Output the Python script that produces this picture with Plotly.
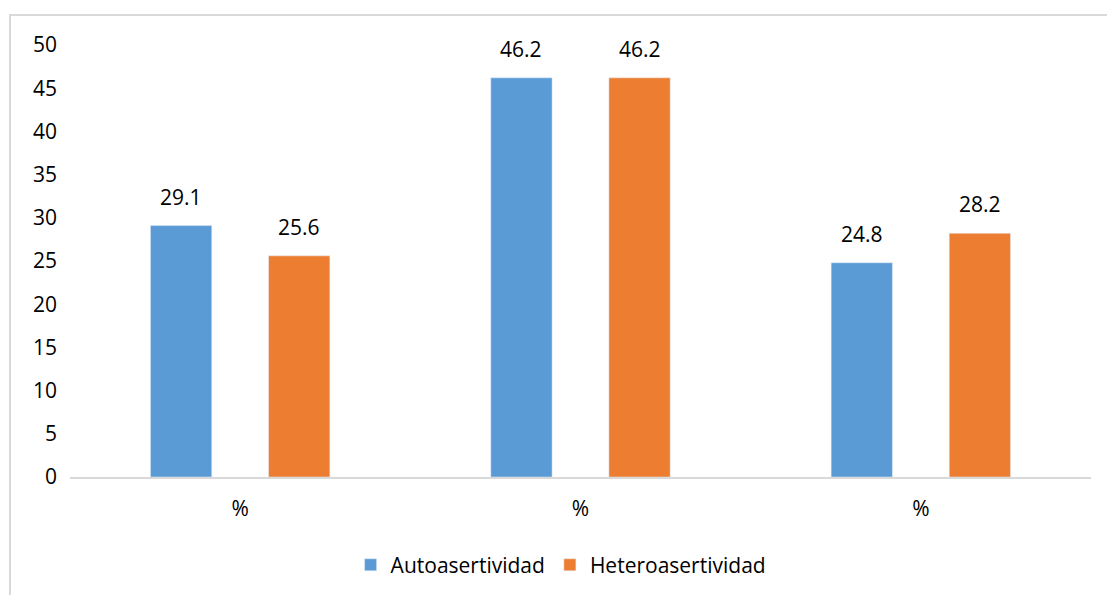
import plotly.graph_objects as go

categories = ["%", "%", "%"]
auto_vals = [29.1, 46.2, 24.8]
hetero_vals = [25.6, 46.2, 28.2]
series_names = ["Autoasertividad", "Heteroasertividad"]
y_ticks = [0, 5, 10, 15, 20, 25, 30, 35, 40, 45, 50]

BLUE = "#5B9BD5"
ORANGE = "#ED7D31"
FONT = "Open Sans"
FS = 21

xpos = list(range(len(categories)))

fig = go.Figure()
fig.add_trace(go.Bar(x=xpos, y=auto_vals, name=series_names[0], marker_color=BLUE))
fig.add_trace(go.Bar(x=xpos, y=hetero_vals, name=series_names[1], marker_color=ORANGE))

bargap = 0.306
groupgap = 0.481
slot = (1 - bargap) / 2
for vals, sign in [(auto_vals, -1), (hetero_vals, 1)]:
    for i, v in enumerate(vals):
        fig.add_annotation(x=i + sign * slot / 2, y=v, text=f"{v:.1f}", showarrow=False,
                           xref="x", yref="y", yanchor="middle", yshift=29,
                           font=dict(family=FONT, size=FS, color="#000000"))

# chart frame
x0p, wp = 70, 1021
y1p, hp = 477, 432
fig.add_shape(type="rect", xref="paper", yref="paper",
              x0=(10 - x0p) / wp, x1=(1200 - x0p) / wp,
              y0=(y1p - 700) / hp, y1=(y1p - 15) / hp,
              line=dict(color="#D9D9D9", width=2), fillcolor="rgba(0,0,0,0)", layer="below")

fig.update_layout(
    width=1107, height=595,
    margin=dict(l=70, r=16, t=45, b=118, autoexpand=False),
    paper_bgcolor="white", plot_bgcolor="white",
    barmode="group", bargap=bargap, bargroupgap=groupgap,
    font=dict(family=FONT, size=FS, color="#000000"),
    showlegend=True,
    legend=dict(orientation="h", x=0.481, xanchor="center", y=-0.204, yanchor="middle",
                font=dict(family=FONT, size=FS), itemwidth=30, traceorder="normal"),
    xaxis=dict(range=[-0.5, 2.5], tickmode="array", tickvals=xpos, ticktext=categories,
               showline=True, linecolor="#D9D9D9", linewidth=2, showgrid=False,
               ticks="", zeroline=False, ticklabelstandoff=12, automargin=False),
    yaxis=dict(range=[0, 50], tickmode="array", tickvals=y_ticks, showgrid=False,
               showline=False, zeroline=False, ticks="", ticklabelstandoff=12, automargin=False),
)

fig.write_html("out.html")
